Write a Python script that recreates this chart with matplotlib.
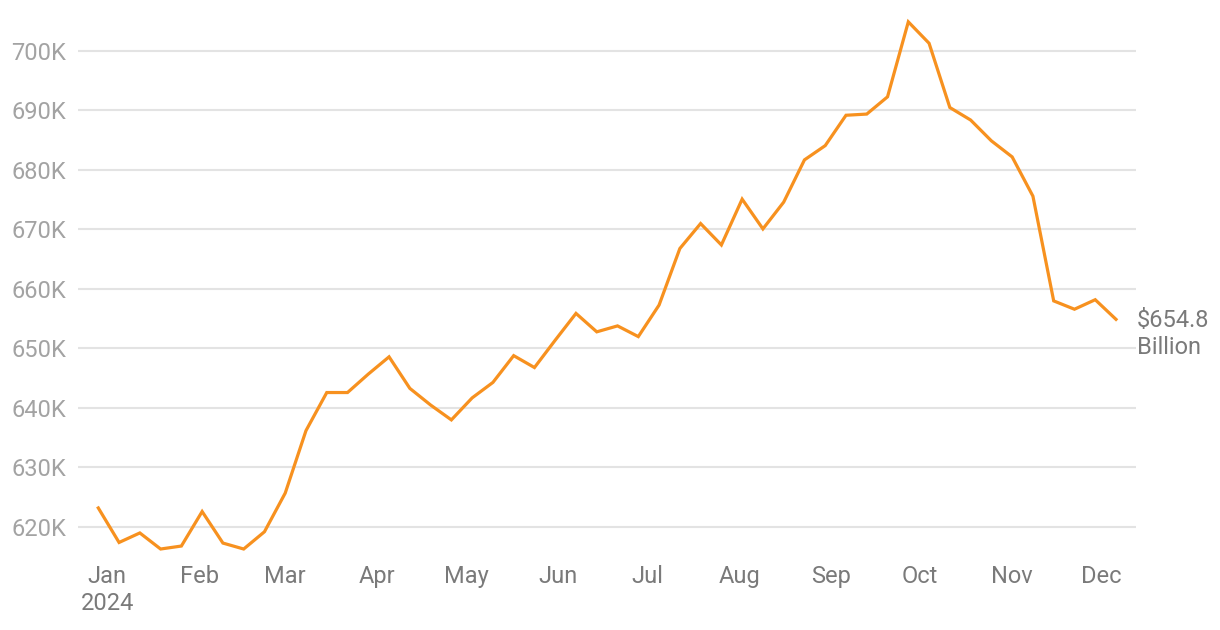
import numpy as np
import pandas as pd
import matplotlib
matplotlib.use('Agg')
import matplotlib.pyplot as plt
import matplotlib.dates as mdates
from matplotlib.ticker import FuncFormatter

# ── Palette ──────────────────────────────────────────────
ORANGE = '#F7911F'
GRID   = '#E3E3E3'
YTXT   = '#A3A3A3'
XTXT   = '#7A7A7A'

plt.rcParams['font.family'] = ['Roboto', 'DejaVu Sans']

# ── Data (weekly, in thousands of dollars -> K) ──────────
start = '2023-12-29'
values = [
    623.2, 617.4, 619.0, 616.3, 616.8, 622.6, 617.3, 616.3, 619.2, 625.7,
    636.2, 642.6, 642.6, 645.7, 648.6, 643.3, 640.5, 638.0, 641.7, 644.3,
    648.8, 646.8, 651.4, 655.9, 652.8, 653.8, 652.0, 657.3, 666.8, 671.0,
    667.4, 675.1, 670.1, 674.6, 681.7, 684.1, 689.2, 689.4, 692.3, 704.9,
    701.3, 690.5, 688.4, 684.9, 682.2, 675.6, 658.0, 656.6, 658.2, 654.9,
]
dates = pd.date_range(start, periods=len(values), freq='7D')
yticks = [620, 630, 640, 650, 660, 670, 680, 690, 700]
end_label = '$654.8\nBillion'

fig = plt.figure(figsize=(12.2, 6.3), dpi=100)
ax = fig.add_axes([78 / 1220, 1 - 562.7 / 630, (1136 - 78) / 1220, (562.7 - 9.35) / 630])

ax.plot(dates, values, color=ORANGE, linewidth=2.3, solid_joinstyle='miter', zorder=3)

ax.set_ylim(614, 707)
ax.set_yticks(yticks)
ax.yaxis.set_major_formatter(FuncFormatter(lambda v, p: f'{v:.0f}K'))
ax.set_xlim(dates[0] - pd.Timedelta(days=6.84), dates[-1] + pd.Timedelta(days=6.74))

ax.xaxis.set_major_locator(mdates.MonthLocator())
ax.xaxis.set_major_formatter(FuncFormatter(
    lambda v, p: mdates.num2date(v).strftime('%b') + ('\n2024' if p == 0 else '')))

ax.grid(axis='y', color=GRID, linewidth=1.5, zorder=0)
for s in ax.spines.values():
    s.set_visible(False)
ax.tick_params(axis='y', length=0, pad=8.5, labelsize=17, labelcolor=YTXT)
ax.tick_params(axis='x', length=0, pad=2, labelsize=17, labelcolor=XTXT)
for lbl in ax.get_xticklabels():
    lbl.set_linespacing(1.2)

ax.annotate(end_label, xy=(dates[-1], values[-1]), xytext=(15, -10.5),
            textcoords='offset points', ha='left', va='center',
            fontsize=17, color=XTXT, linespacing=1.2, annotation_clip=False)

fig.savefig('out.png', dpi=100, facecolor='white')
